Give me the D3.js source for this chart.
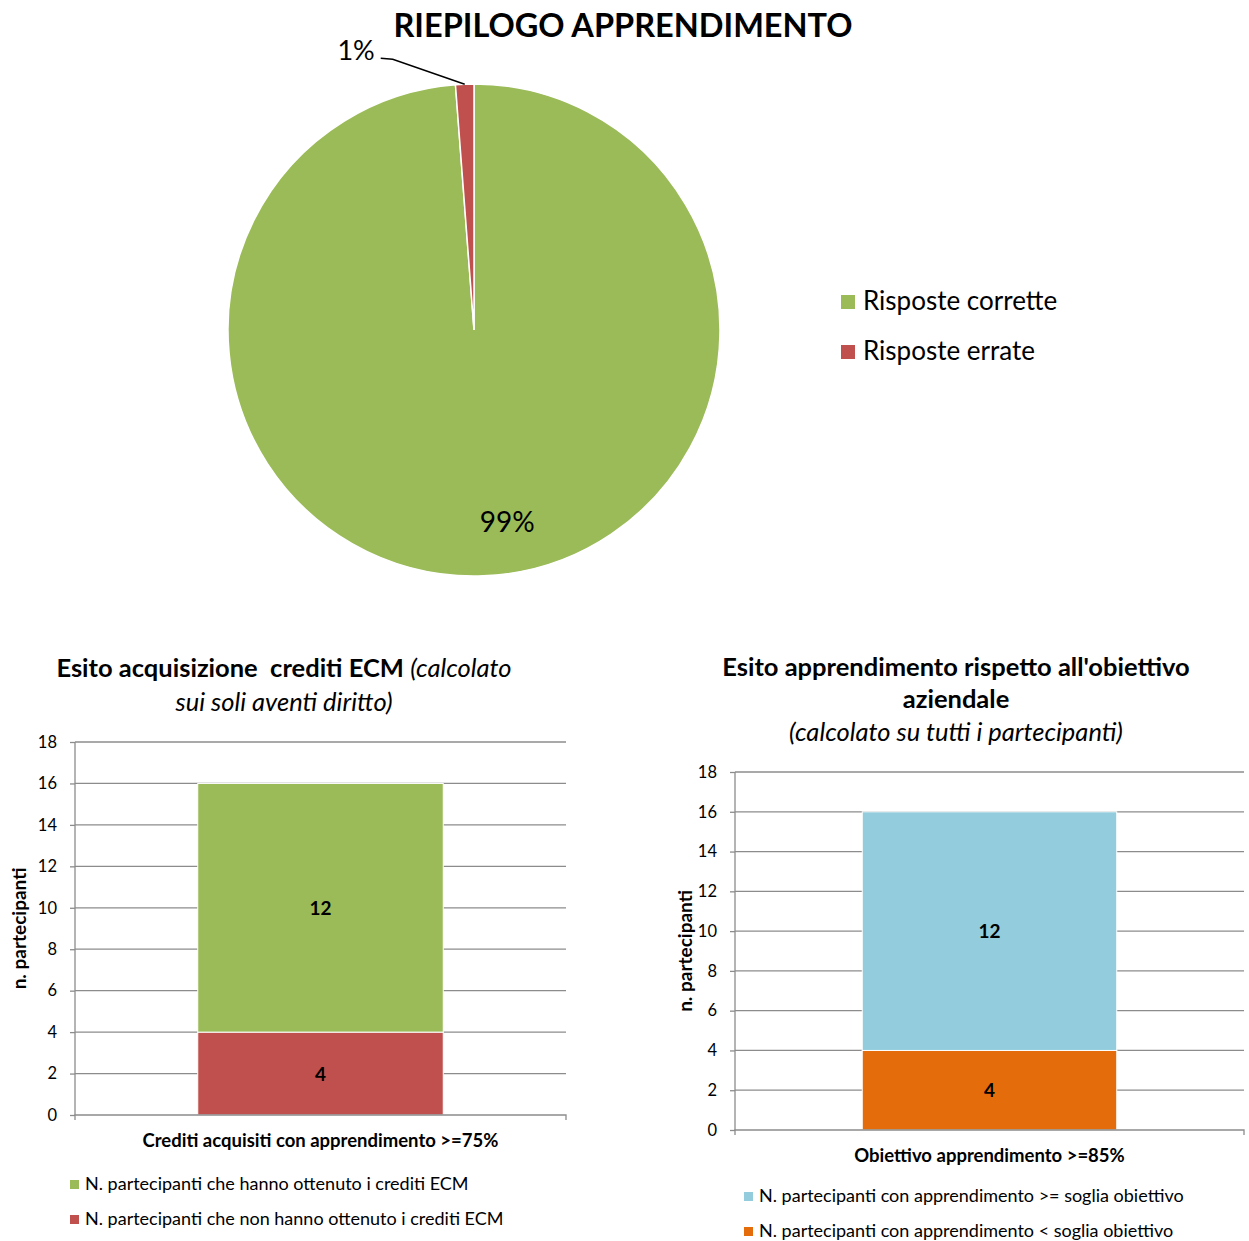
<!DOCTYPE html>
<html>
<head>
<meta charset="utf-8">
<script src="https://cdn.jsdelivr.net/npm/d3@7"></script>
<style>
body{margin:0;background:#fff;}
text{font-family:Lato, "Open Sans", sans-serif;fill:#000;}
</style>
</head>
<body>
<svg id="Chart" width="1249" height="1241"></svg>
<script>
// dati torta
var pieLabels = ["Risposte corrette", "Risposte errate"];
var pieValues = [247, 3];
var pieColors = ["#9BBB59", "#C0504D"];

// dati barre ECM
var ecmCategory = ["Crediti acquisiti con apprendimento >=75%"];
var ecmSeries = ["N. partecipanti che hanno ottenuto i crediti ECM", "N. partecipanti che non hanno ottenuto i crediti ECM"];
var ecmOk = [12];
var ecmKo = [4];
var ecmColors = ["#9BBB59", "#C0504D"];

// dati barre obiettivo
var objCategory = ["Obiettivo apprendimento >=85%"];
var objSeries = ["N. partecipanti con apprendimento >= soglia obiettivo", "N. partecipanti con apprendimento < soglia obiettivo"];
var objOk = [12];
var objKo = [4];
var objColors = ["#93CDDD", "#E46C0A"];

var yTicks = [0, 2, 4, 6, 8, 10, 12, 14, 16, 18];

var svg = d3.select("#Chart");

function drawPie(){
	var cx = 474, cy = 330, r = 246;
	var g = svg.append("g").attr("transform", "translate(" + cx + "," + cy + ")");
	var total = d3.sum(pieValues);
	var arcs = d3.pie().sort(null)(pieValues);
	var arc = d3.arc().innerRadius(0).outerRadius(r);

	g.selectAll("path").data(arcs).enter().append("path")
	.attr("d", arc)
	.style("fill", function(d, i){ return pieColors[i]; })
	.style("stroke", "#fff")
	.style("stroke-width", 1.5);

	// etichetta interna (99%)
	var a0 = arcs[0];
	var mid = (a0.startAngle + a0.endAngle) / 2;
	var lr = r * 0.78;
	g.append("text")
	.attr("x", Math.sin(mid) * lr + 26)
	.attr("y", -Math.cos(mid) * lr + 10)
	.attr("text-anchor", "middle")
	.style("font-size", "28px")
	.text(Math.round(pieValues[0] / total * 100) + "%");

	// etichetta esterna con linea guida (1%)
	var a1 = arcs[1];
	var m1 = (a1.startAngle + a1.endAngle) / 2;
	var px = Math.sin(m1) * r, py = -Math.cos(m1) * r;
	g.append("polyline")
	.attr("points", [[px, py], [px - 72, py - 25], [px - 84, py - 26]].map(function(p){ return p.join(","); }).join(" "))
	.style("fill", "none")
	.style("stroke", "#000")
	.style("stroke-width", 1.5);
	g.append("text")
	.attr("x", px - 90)
	.attr("y", py - 24)
	.attr("text-anchor", "end")
	.style("font-size", "27px")
	.text(Math.round(pieValues[1] / total * 100) + "%");

	svg.append("text")
	.attr("x", 623).attr("y", 37)
	.attr("text-anchor", "middle")
	.style("font-size", "32.5px").style("font-weight", "bold")
	.text("RIEPILOGO APPRENDIMENTO");

	var lg = svg.append("g").attr("transform", "translate(841,295)");
	pieLabels.forEach(function(l, i){
		lg.append("rect").attr("x", 0).attr("y", i * 50).attr("width", 14).attr("height", 14).style("fill", pieColors[i]);
		lg.append("text").attr("x", 22).attr("y", i * 50 + 15).style("font-size", "26px").text(l);
	});
}

function drawBar(cfg){
	var y = d3.scaleLinear().domain([0, 18]).range([cfg.bottom, cfg.top]);
	var x = d3.scaleBand().domain(cfg.category).range([cfg.left, cfg.right]).paddingInner(0).paddingOuter(0.5);
	var g = svg.append("g");

	g.selectAll("line.grid").data(yTicks.slice(1)).enter().append("line")
	.attr("x1", cfg.left).attr("x2", cfg.right)
	.attr("y1", function(d){ return y(d); }).attr("y2", function(d){ return y(d); })
	.style("stroke", "#8c8c8c").style("stroke-width", 1.3);

	var stack = [
		{v0: 0, v1: cfg.ko[0], color: cfg.colors[1]},
		{v0: cfg.ko[0], v1: cfg.ko[0] + cfg.ok[0], color: cfg.colors[0]}
	];
	g.selectAll("rect.bar").data(stack).enter().append("rect")
	.attr("x", x(cfg.category[0])).attr("width", x.bandwidth())
	.attr("y", function(d){ return y(d.v1); })
	.attr("height", function(d){ return y(d.v0) - y(d.v1); })
	.style("fill", function(d){ return d.color; })
	.style("stroke", "#fff").style("stroke-width", 1);

	g.selectAll("text.val").data(stack).enter().append("text")
	.attr("x", x(cfg.category[0]) + x.bandwidth() / 2)
	.attr("y", function(d){ return (y(d.v0) + y(d.v1)) / 2 + 7; })
	.attr("text-anchor", "middle")
	.style("font-size", "19px").style("font-weight", "bold")
	.text(function(d){ return d.v1 - d.v0; });

	var ya = d3.axisLeft(y).tickValues(yTicks).tickSize(5).tickPadding(13);
	var yg = g.append("g").attr("transform", "translate(" + cfg.left + ",0)").call(ya);
	yg.selectAll("text").style("font-size", "16.5px").style("font-family", "Lato, sans-serif");
	yg.selectAll("line").style("stroke", "#8c8c8c").style("stroke-width", 1.3);
	yg.select(".domain").style("stroke", "#8c8c8c").style("stroke-width", 1.3).attr("d", "M0," + cfg.top + "V" + cfg.bottom);

	var xa = d3.axisBottom(x).tickSize(0).tickFormat("");
	var xg = g.append("g").attr("transform", "translate(0," + cfg.bottom + ")").call(xa);
	xg.select(".domain").style("stroke", "#8c8c8c").style("stroke-width", 1.3)
	.attr("d", "M" + cfg.left + ",5V0H" + cfg.right + "V5");

	g.append("text")
	.attr("transform", "translate(" + cfg.ytx + "," + ((cfg.top + cfg.bottom) / 2) + ") rotate(-90)")
	.attr("text-anchor", "middle")
	.style("font-size", "19px").style("font-weight", "bold")
	.text("n. partecipanti");

	g.append("text")
	.attr("x", x(cfg.category[0]) + x.bandwidth() / 2).attr("y", cfg.bottom + 32)
	.attr("text-anchor", "middle")
	.style("font-size", "18.5px").style("font-weight", "bold")
	.text(cfg.category[0]);

	cfg.series.forEach(function(s, i){
		g.append("rect").attr("x", cfg.legX).attr("y", cfg.legY + i * cfg.legStep - 10).attr("width", 9).attr("height", 9).style("fill", cfg.colors[i]);
		g.append("text").attr("x", cfg.legX + 15).attr("y", cfg.legY + i * cfg.legStep).style("font-size", "18px").text(s);
	});

	cfg.title.forEach(function(line){
		var t = g.append("text").attr("x", line.x).attr("y", line.y).attr("text-anchor", "middle").style("font-size", "25.5px");
		line.parts.forEach(function(p){
			t.append("tspan").style("font-weight", p.b ? "bold" : "normal").style("font-style", p.i ? "italic" : "normal").text(p.t);
		});
	});
}

drawPie();

drawBar({
	category: ecmCategory, series: ecmSeries, ok: ecmOk, ko: ecmKo, colors: ecmColors,
	left: 75, right: 566, top: 742, bottom: 1115, ytx: 26,
	legX: 70, legY: 1190, legStep: 35,
	title: [
		{x: 284, y: 677, parts: [{t: "Esito acquisizione\u00a0 crediti ECM ", b: true}, {t: "(calcolato", i: true}]},
		{x: 284, y: 711, parts: [{t: "sui soli aventi diritto)", i: true}]}
	]
});

drawBar({
	category: objCategory, series: objSeries, ok: objOk, ko: objKo, colors: objColors,
	left: 735, right: 1244, top: 772, bottom: 1130, ytx: 692,
	legX: 744, legY: 1202, legStep: 35,
	title: [
		{x: 956, y: 676, parts: [{t: "Esito apprendimento rispetto all'obiettivo", b: true}]},
		{x: 956, y: 708, parts: [{t: "aziendale", b: true}]},
		{x: 956, y: 741, parts: [{t: "(calcolato su tutti i partecipanti)", i: true}]}
	]
});
</script>
</body>
</html>
